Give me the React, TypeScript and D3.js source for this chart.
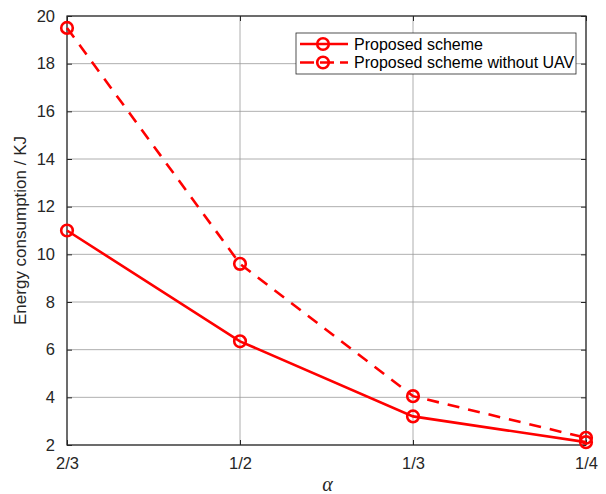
import React, { useRef, useEffect } from "react";
import * as d3 from "d3";

const categories = ["2/3", "1/2", "1/3", "1/4"];
const proposed = [11.0, 6.35, 3.2, 2.12];
const withoutUav = [19.5, 9.6, 4.05, 2.3];
const yTicks = [2, 4, 6, 8, 10, 12, 14, 16, 18, 20];

const seriesList = [
  { name: "Proposed scheme", values: proposed, dash: null },
  { name: "Proposed scheme without UAV", values: withoutUav, dash: "12 9" },
];

const App = () => {
  const svgRef = useRef<SVGSVGElement>(null);

  useEffect(() => {
    const w = 606;
    const h = 494;
    const margin = { top: 16, right: 20, bottom: 49, left: 67 };
    const font = "'Liberation Sans', Arial, Helvetica, sans-serif";
    const svg = d3
      .select(svgRef.current)
      .attr("width", w)
      .attr("height", h)
      .style("background", "#fff");

    svg.selectAll("*").remove();

    const x = d3
      .scalePoint()
      .domain(categories)
      .range([margin.left, w - margin.right]);

    const y = d3
      .scaleLinear()
      .domain([2, 20])
      .range([h - margin.bottom, margin.top]);

    const x0 = margin.left;
    const x1 = w - margin.right;
    const y0 = h - margin.bottom;
    const y1 = margin.top;

    // grid
    const grid = svg.append("g").attr("stroke", "#9a9a9a").attr("stroke-width", 0.8);
    yTicks.forEach((t) => {
      grid.append("line").attr("x1", x0).attr("x2", x1).attr("y1", y(t)).attr("y2", y(t));
    });
    categories.forEach((c) => {
      grid.append("line").attr("x1", x(c)!).attr("x2", x(c)!).attr("y1", y0).attr("y2", y1);
    });

    // axes (ticks inward)
    const axisColor = "#262626";
    const xAxis = d3.axisBottom(x).tickSizeInner(-5).tickSizeOuter(0).tickPadding(12);
    const gx = svg.append("g").attr("transform", `translate(0,${y0})`).call(xAxis);
    const xAxisTop = d3.axisTop(x).tickSizeInner(-5).tickSizeOuter(0).tickFormat(() => "");
    svg.append("g").attr("transform", `translate(0,${y1})`).call(xAxisTop);

    const yAxis = d3.axisLeft(y).tickValues(yTicks).tickSizeInner(-5).tickSizeOuter(0).tickPadding(12);
    svg.append("g").attr("transform", `translate(${x0},0)`).call(yAxis);
    const yAxisRight = d3.axisRight(y).tickValues(yTicks).tickSizeInner(-5).tickSizeOuter(0).tickFormat(() => "");
    svg.append("g").attr("transform", `translate(${x1},0)`).call(yAxisRight);

    svg.selectAll(".domain").remove();
    svg.selectAll(".tick line").attr("stroke", axisColor).attr("stroke-width", 1);
    svg
      .selectAll(".tick text")
      .attr("fill", axisColor)
      .attr("font-family", font)
      .attr("font-size", "16.5px");
    gx.selectAll(".tick text").attr("dy", "0.71em");

    svg
      .append("rect")
      .attr("x", x0)
      .attr("y", y1)
      .attr("width", x1 - x0)
      .attr("height", y0 - y1)
      .attr("fill", "none")
      .attr("stroke", axisColor)
      .attr("stroke-width", 1.2);

    // lines
    const red = "#ff0000";
    const line = d3
      .line<number>()
      .x((_, i) => x(categories[i])!)
      .y((d) => y(d));

    seriesList.forEach((s) => {
      svg
        .append("path")
        .datum(s.values)
        .attr("d", line)
        .attr("fill", "none")
        .attr("stroke", red)
        .attr("stroke-width", 2.6)
        .attr("stroke-dasharray", s.dash);
      svg
        .append("g")
        .selectAll("circle")
        .data(s.values)
        .enter()
        .append("circle")
        .attr("cx", (_, i) => x(categories[i])!)
        .attr("cy", (d) => y(d))
        .attr("r", 5.8)
        .attr("fill", "none")
        .attr("stroke", red)
        .attr("stroke-width", 2.6);
    });

    // legend
    const lg = svg.append("g").attr("transform", "translate(296,33)");
    lg.append("rect")
      .attr("width", 280)
      .attr("height", 41)
      .attr("fill", "#fff")
      .attr("stroke", axisColor)
      .attr("stroke-width", 0.8);
    seriesList.forEach((s, i) => {
      const ly = 11 + i * 18.5;
      lg.append("line")
        .attr("x1", 4)
        .attr("x2", 52)
        .attr("y1", ly)
        .attr("y2", ly)
        .attr("stroke", red)
        .attr("stroke-width", 2.6)
        .attr("stroke-dasharray", s.dash ? "14 6" : null);
      lg.append("circle")
        .attr("cx", 27)
        .attr("cy", ly)
        .attr("r", 5.8)
        .attr("fill", "none")
        .attr("stroke", red)
        .attr("stroke-width", 2.6);
      lg.append("text")
        .attr("x", 58)
        .attr("y", ly)
        .attr("dy", "0.35em")
        .attr("font-family", font)
        .attr("font-size", "16px")
        .attr("fill", "#000")
        .text(s.name);
    });

    // axis labels
    svg
      .append("text")
      .attr("transform", `translate(26,${(y0 + y1) / 2}) rotate(-90)`)
      .attr("text-anchor", "middle")
      .attr("font-family", font)
      .attr("font-size", "17px")
      .attr("fill", axisColor)
      .text("Energy consumption / KJ");

    svg
      .append("text")
      .attr("x", (x0 + x1) / 2 + 1)
      .attr("y", 491)
      .attr("text-anchor", "middle")
      .attr("font-family", "'Liberation Serif', 'Times New Roman', serif")
      .attr("font-style", "italic")
      .attr("font-size", "20px")
      .attr("fill", axisColor)
      .text("α");
  }, []);

  return (
    <div style={{ position: "absolute", left: 0, top: 0 }}>
      <svg ref={svgRef}></svg>
    </div>
  );
};

export default App;
